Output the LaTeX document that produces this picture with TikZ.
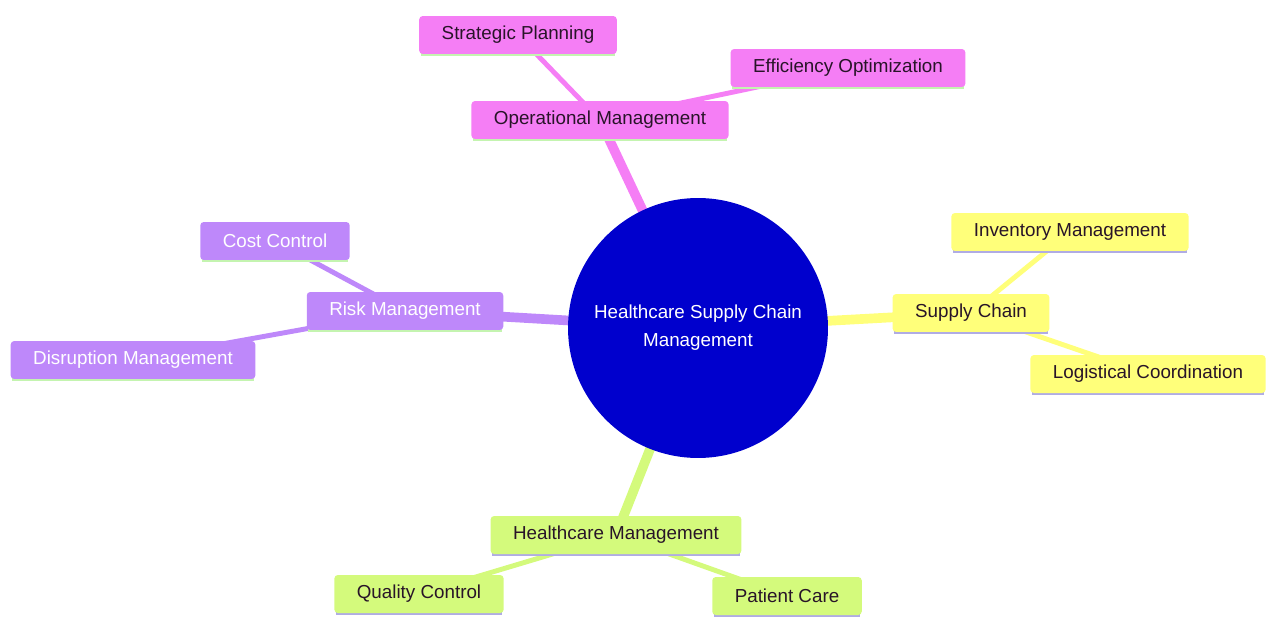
\documentclass[tikz,border=0pt]{standalone}
\usepackage{fontspec}
\setmainfont{Liberation Sans}
\usetikzlibrary{backgrounds}

\definecolor{rootblue}{RGB}{0,0,205}
\definecolor{opspink}{RGB}{245,126,245}
\definecolor{riskpurple}{RGB}{190,136,250}
\definecolor{supplyyellow}{RGB}{255,255,122}
\definecolor{caregreen}{RGB}{212,250,124}
\definecolor{linegreen}{RGB}{196,244,176}
\definecolor{linelavender}{RGB}{176,172,228}
\definecolor{textdark}{RGB}{40,20,40}

\tikzset{
  topic/.style={rectangle, rounded corners=2pt, fill=#1, text=textdark,
    minimum height=0.76cm, inner xsep=0.45cm, inner ysep=0pt,
    font=\fontsize{10.7}{13}\selectfont},
  underline/.style={append after command={\pgfextra{%
    \draw[#1, line width=1.6pt] ([xshift=1pt]\tikzlastnode.south west)
      -- ([xshift=-1pt]\tikzlastnode.south east);}}},
  trunk/.style={draw=#1, line width=5.5pt},
  twig/.style={draw=#1, line width=2.8pt}
}

\begin{document}
\begin{tikzpicture}[x=0.02cm, y=-0.02cm]
    \useasboundingbox (0,0) rectangle (1266,618);
    % Definitions:
    \node[circle, fill=rootblue, text=white, minimum size=5.2cm, align=center,
      font=\fontsize{10.7}{16}\selectfont] (root) at (698,328)
      {Healthcare Supply Chain\\Management};
    \node[topic=opspink, underline=linegreen] (ops) at (600,120) {Operational Management};
    \node[topic=opspink, underline=linegreen] (plan) at (518,35) {Strategic Planning};
    \node[topic=opspink, underline=linegreen] (effic) at (848,68) {Efficiency Optimization};
    \node[topic=supplyyellow, underline=linelavender] (supply) at (971,313) {Supply Chain};
    \node[topic=supplyyellow, underline=linelavender] (invent) at (1070,232) {Inventory Management};
    \node[topic=supplyyellow, underline=linelavender] (logist) at (1148,374) {Logistical Coordination};
    \node[topic=riskpurple, text=white, underline=linegreen] (risk) at (405,311) {Risk Management};
    \node[topic=riskpurple, text=white, underline=linegreen] (cost) at (275,241) {Cost Control};
    \node[topic=riskpurple, text=white, underline=linegreen] (disrupt) at (133,360) {Disruption Management};
    \node[topic=caregreen, underline=linelavender] (care) at (616,535) {Healthcare Management};
    \node[topic=caregreen, underline=linelavender] (quality) at (419,594) {Quality Control};
    \node[topic=caregreen, underline=linelavender] (patient) at (787,596) {Patient Care};
    % Drawing:
    \begin{pgfonlayer}{background}
      \draw[trunk=opspink] (root.center) -- (ops.center);
      \draw[trunk=supplyyellow] (root.center) -- (supply.center);
      \draw[trunk=riskpurple] (root.center) -- (risk.center);
      \draw[trunk=caregreen] (root.center) -- (care.center);
      \draw[twig=opspink] (ops.center) -- (plan.center);
      \draw[twig=opspink] (ops.center) -- (effic.center);
      \draw[twig=supplyyellow] (supply.center) -- (invent.center);
      \draw[twig=supplyyellow] (supply.center) -- (logist.center);
      \draw[twig=riskpurple] (risk.center) -- (cost.center);
      \draw[twig=riskpurple] (risk.center) -- (disrupt.center);
      \draw[twig=caregreen] (care.center) -- (quality.center);
      \draw[twig=caregreen] (care.center) -- (patient.center);
    \end{pgfonlayer}
\end{tikzpicture}
\end{document}
